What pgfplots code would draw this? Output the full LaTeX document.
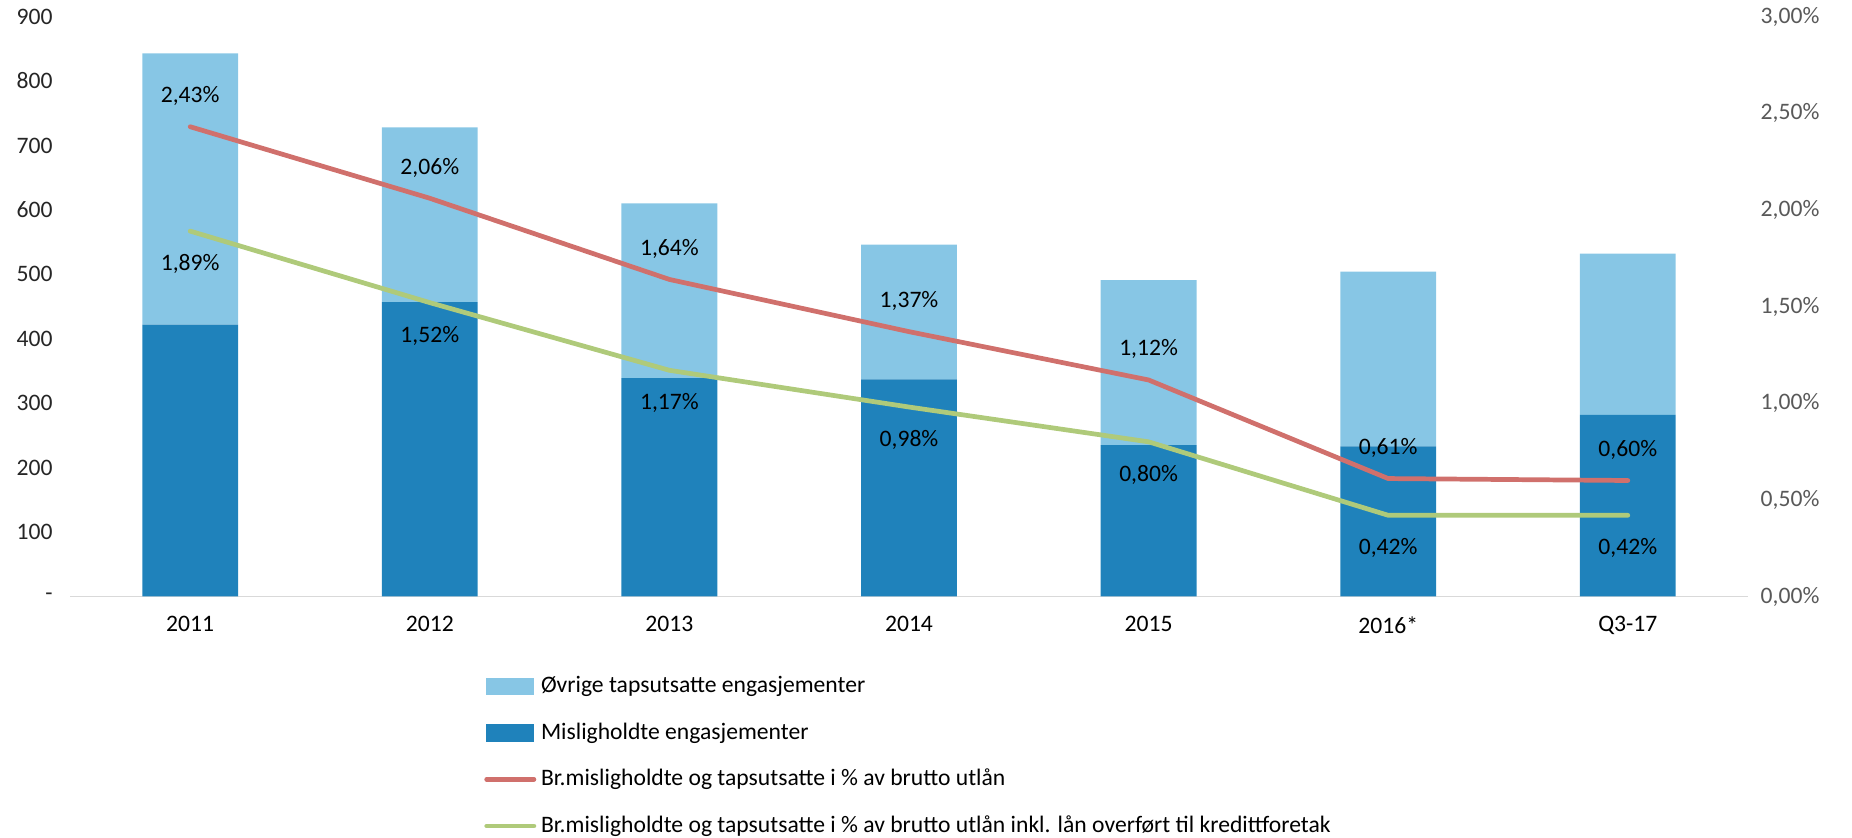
\documentclass[border=0pt]{standalone}
\usepackage{fontspec}
\setmainfont{Carlito}
\usepackage{pgfplots}
\pgfplotsset{compat=1.18}
\usepackage{pgfplotstable}

\definecolor{lightb}{HTML}{87C6E5}
\definecolor{darkb}{HTML}{1F82BB}
\definecolor{redl}{HTML}{D0706C}
\definecolor{greenl}{HTML}{AFCA7A}
\definecolor{axisgray}{HTML}{D9D9D9}
\definecolor{labgray}{HTML}{595959}

\pgfplotstableread{
x mis ovr
0 422 421
1 457 271
2 339 271
3 337 209
4 235 256
5 233 271
6 282 250
}\bars

\pgfplotstableread{
x red green
0 2.43 1.89
1 2.06 1.52
2 1.64 1.17
3 1.37 0.98
4 1.12 0.80
5 0.61 0.42
6 0.60 0.42
}\lines

\begin{document}
\begin{tikzpicture}[font=\fontsize{10}{12}\selectfont]
\useasboundingbox (-29.8pt,-102pt) rectangle (754.2pt,252.5pt);
\begin{axis}[
  scale only axis, width=710pt, height=245.5pt,
  xmin=-0.5, xmax=6.5, ymin=0, ymax=900,
  ybar stacked, bar width=0.4,
  axis x line*=bottom, axis y line*=left,
  x axis line style={axisgray, line width=0.7pt, -},
  y axis line style={draw=none},
  major tick length=0pt,
  xtick={0,...,6},
  xticklabels={2011,2012,2013,2014,2015,2016*,Q3-17},
  xticklabel style={yshift=-5pt, text=black},
  ytick={0,100,...,900},
  yticklabels={-,100,200,300,400,500,600,700,800,900},
  yticklabel style={xshift=-4pt, text=black!85},
]
\addplot[fill=darkb, draw=none] table[x=x,y=mis]{\bars};
\addplot[fill=lightb, draw=none] table[x=x,y=ovr]{\bars};
\end{axis}
\begin{axis}[
  scale only axis, width=710pt, height=245.5pt,
  xmin=-0.5, xmax=6.5, ymin=0, ymax=3,
  axis x line=none, axis y line*=right,
  y axis line style={draw=none},
  major tick length=0pt,
  ytick={0,0.5,...,3},
  yticklabels={{0,00\%},{0,50\%},{1,00\%},{1,50\%},{2,00\%},{2,50\%},{3,00\%}},
  yticklabel style={xshift=2pt, text=labgray},
  legend style={at={(axis description cs:0.2465,-0.1290)}, anchor=north west,
    draw=none, fill=none, inner sep=0pt, row sep=7.2pt,
    legend cell align=left},
]
\addlegendimage{legend image code/.code={\fill[lightb] (0pt,-3.5pt) rectangle (20pt,3.5pt);}}
\addlegendentry{Øvrige tapsutsatte engasjementer}
\addlegendimage{legend image code/.code={\fill[darkb] (0pt,-3.5pt) rectangle (20pt,3.5pt);}}
\addlegendentry{Misligholdte engasjementer}
\addlegendimage{legend image code/.code={\draw[redl, line width=2pt, line cap=round] (0pt,0pt) -- (20pt,0pt);}}
\addlegendentry{Br.misligholdte og tapsutsatte i \% av brutto utlån}
\addlegendimage{legend image code/.code={\draw[greenl, line width=2pt, line cap=round] (0pt,0pt) -- (20pt,0pt);}}
\addlegendentry{Br.misligholdte og tapsutsatte i \% av brutto utlån inkl. lån overført til kredittforetak}

\addplot[greenl, line width=2pt, line cap=round, line join=round, mark=none, forget plot,
  point meta=y,
  nodes near coords={\pgfmathprintnumber[assume math mode=true,fixed,fixed zerofill,precision=2,use comma]{\pgfplotspointmeta}\%},
  every node near coord/.append style={text=black, anchor=center, yshift=-14pt},
] table[x=x,y=green]{\lines};
\addplot[redl, line width=2pt, line cap=round, line join=round, mark=none, forget plot,
  point meta=y,
  nodes near coords={\pgfmathprintnumber[assume math mode=true,fixed,fixed zerofill,precision=2,use comma]{\pgfplotspointmeta}\%},
  every node near coord/.append style={text=black, anchor=center, yshift=13pt},
] table[x=x,y=red]{\lines};
\end{axis}
\end{tikzpicture}
\end{document}
